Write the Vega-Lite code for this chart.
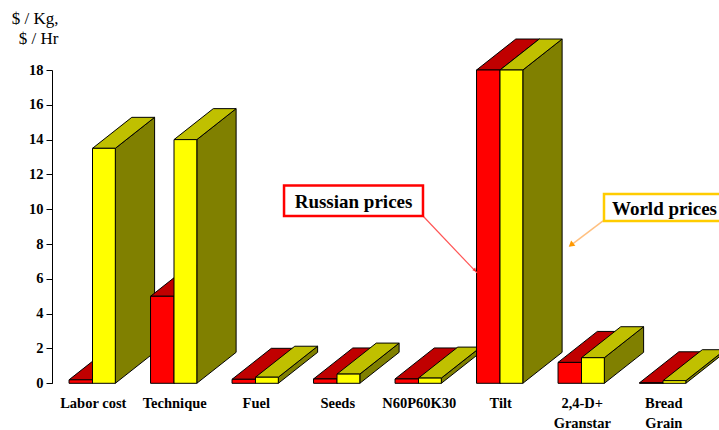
{
"$schema":"https://vega.github.io/schema/vega-lite/v6.json",
"width":667,"height":313.3,
"autosize":{"type":"none"},
"padding":{"left":52,"top":70,"right":0,"bottom":46.7},
"background":"white",
"config":{"view":{"stroke":null},"font":"Liberation Serif"},
"datasets":{
"prices":[
{"category":"Labor cost","series":"Russian prices","value":0.2},
{"category":"Labor cost","series":"World prices","value":13.5},
{"category":"Technique","series":"Russian prices","value":5},
{"category":"Technique","series":"World prices","value":14},
{"category":"Fuel","series":"Russian prices","value":0.23},
{"category":"Fuel","series":"World prices","value":0.35},
{"category":"Seeds","series":"Russian prices","value":0.25},
{"category":"Seeds","series":"World prices","value":0.53},
{"category":"N60P60K30","series":"Russian prices","value":0.25},
{"category":"N60P60K30","series":"World prices","value":0.3},
{"category":"Tilt","series":"Russian prices","value":18},
{"category":"Tilt","series":"World prices","value":18},
{"category":"2,4-D+ Granstar","series":"Russian prices","value":1.2},
{"category":"2,4-D+ Granstar","series":"World prices","value":1.47},
{"category":"Bread Grain","series":"Russian prices","value":0.03},
{"category":"Bread Grain","series":"World prices","value":0.15}
]},
"layer":[
{
"data":{"name":"prices"},
"transform":[
{"calculate":"indexof(['Labor cost','Technique','Fuel','Seeds','N60P60K30','Tilt','2,4-D+ Granstar','Bread Grain'],datum.category)","as":"idx"},
{"calculate":"datum.idx+0.497+(datum.series==='World prices'?0:-0.288)","as":"xL"},
{"calculate":"datum.xL+(datum.series==='World prices'?0.28:0.288)","as":"xR"},
{"calculate":"[0,1,2]","as":"face"},
{"flatten":["face"]},
{"calculate":"[0,1,2,3,4]","as":"corner"},
{"flatten":["corner"]},
{"calculate":"[[datum.xR,datum.xR+0.482,datum.xR+0.482,datum.xR,datum.xR],[datum.xL,datum.xR,datum.xR+0.482,datum.xL+0.482,datum.xL],[datum.xL,datum.xR,datum.xR,datum.xL,datum.xL]][datum.face][datum.corner]","as":"px"},
{"calculate":"[[0,1.78,datum.value+1.78,datum.value,0],[datum.value,datum.value,datum.value+1.78,datum.value+1.78,datum.value],[0,0,datum.value,datum.value,0]][datum.face][datum.corner]","as":"py"},
{"calculate":"datum.series+' '+datum.face","as":"faceKey"},
{"calculate":"datum.category+' '+datum.faceKey","as":"polygon"}
],
"mark":{"type":"line","stroke":"black","strokeWidth":1,"strokeJoin":"miter"},
"encoding":{
"x":{"field":"px","type":"quantitative","scale":{"domain":[0,8.184],"nice":false,"zero":false},
"axis":{"title":null,"domain":false,"ticks":false,"grid":false,"values":[0.5,1.5,2.5,3.5,4.5,5.5,6.5,7.5],"tickCount":8,
"labelExpr":"['Labor cost','Technique','Fuel','Seeds','N60P60K30','Tilt',['2,4-D+','Granstar'],['Bread','Grain']][floor(datum.value)]",
"labelFont":"Liberation Serif","labelFontWeight":"bold","labelFontSize":14.5,"labelColor":"black","labelPadding":13,"labelLineHeight":20,"labelOverlap":false,"labelBound":false,"labelFlush":false,"labelAngle":0}},
"y":{"field":"py","type":"quantitative","scale":{"domain":[0,18],"nice":false},
"axis":{"title":["$ / Kg,","$ / Hr"],"titleFont":"Liberation Serif","titleFontSize":17,"titleFontWeight":"normal","titleColor":"black","titleAngle":0,"titleAlign":"right","titleBaseline":"top","titleX":6,"titleY":-60,"titleLineHeight":20,
"values":[0,2,4,6,8,10,12,14,16,18],"tickCount":10,"grid":false,"domainColor":"black","tickColor":"black","tickSize":6,"labelFont":"Liberation Serif","labelFontWeight":"bold","labelFontSize":14.5,"labelColor":"black","labelPadding":3,"labelOverlap":false,"labelBound":false,"labelFlush":false}},
"detail":{"field":"polygon"},
"fill":{"field":"faceKey","type":"nominal","legend":null,"scale":{"domain":["Russian prices 0","Russian prices 1","Russian prices 2","World prices 0","World prices 1","World prices 2"],"range":["#800000","#c00000","#ff0000","#808000","#c0c000","#ffff00"]}},
"order":{"field":"corner","type":"quantitative"}
}
},
{"data":{"values":[{"a":4.552,"b":9.61,"a2":5.215,"b2":6.34}]},"mark":{"type":"rule","color":"#ff5555","strokeWidth":1.2},
"encoding":{"x":{"field":"a","type":"quantitative"},"y":{"field":"b","type":"quantitative"},"x2":{"field":"a2"},"y2":{"field":"b2"}}},
{"data":{"values":[{"a":5.19,"b":6.5}]},"mark":{"type":"point","shape":"triangle-up","filled":true,"color":"#ff3333","opacity":1,"size":16,"angle":136},
"encoding":{"x":{"field":"a","type":"quantitative"},"y":{"field":"b","type":"quantitative"}}},
{"data":{"values":[{"a":6.761,"b":9.33,"a2":6.356,"b2":7.89}]},"mark":{"type":"rule","color":"#ffc080","strokeWidth":1.5},
"encoding":{"x":{"field":"a","type":"quantitative"},"y":{"field":"b","type":"quantitative"},"x2":{"field":"a2"},"y2":{"field":"b2"}}},
{"data":{"values":[{"a":6.368,"b":7.95}]},"mark":{"type":"point","shape":"triangle-up","filled":true,"color":"#ff9900","opacity":1,"size":45,"angle":231},
"encoding":{"x":{"field":"a","type":"quantitative"},"y":{"field":"b","type":"quantitative"}}},
{"data":{"values":[{"a":4.552,"b":11.37,"a2":2.847,"b2":9.61}]},"mark":{"type":"rect","fill":"white","stroke":"#ff0000","strokeWidth":2.5},
"encoding":{"x":{"field":"a","type":"quantitative"},"y":{"field":"b","type":"quantitative"},"x2":{"field":"a2"},"y2":{"field":"b2"}}},
{"data":{"values":[{"a":6.773,"b":10.88,"a2":8.3,"b2":9.33}]},"mark":{"type":"rect","fill":"white","stroke":"#ffcc00","strokeWidth":2.5},
"encoding":{"x":{"field":"a","type":"quantitative"},"y":{"field":"b","type":"quantitative"},"x2":{"field":"a2"},"y2":{"field":"b2"}}},
{"data":{"values":[{"a":3.70,"b":10.42,"label":"Russian prices"}]},"mark":{"type":"text","font":"Liberation Serif","fontWeight":"bold","fontSize":19,"color":"black","align":"center","baseline":"middle"},
"encoding":{"x":{"field":"a","type":"quantitative"},"y":{"field":"b","type":"quantitative"},"text":{"field":"label"}}},
{"data":{"values":[{"a":6.871,"b":10.02,"label":"World prices"}]},"mark":{"type":"text","font":"Liberation Serif","fontWeight":"bold","fontSize":19,"color":"black","align":"left","baseline":"middle"},
"encoding":{"x":{"field":"a","type":"quantitative"},"y":{"field":"b","type":"quantitative"},"text":{"field":"label"}}}
]
}
